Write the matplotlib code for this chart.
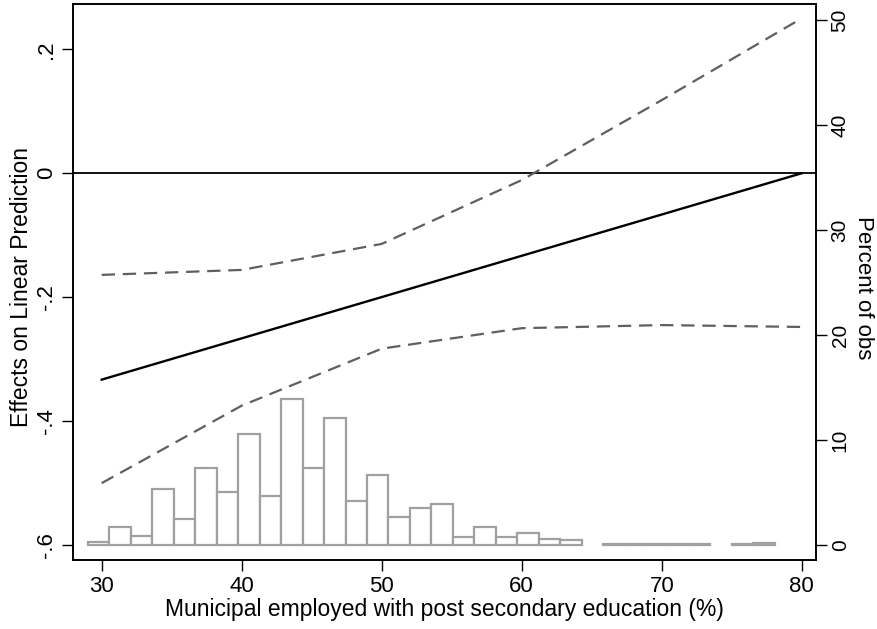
import numpy as np
import matplotlib
matplotlib.use("Agg")
import matplotlib.pyplot as plt

plt.rcParams['font.family'] = ['Liberation Sans', 'DejaVu Sans']

# marginal effect line and confidence bounds
x_pts = [30, 40, 50, 60, 70, 80]
effect = [-0.333, -0.2664, -0.1998, -0.1332, -0.0666, 0.0]
upper = [-0.164, -0.156, -0.114, -0.011, 0.118, 0.250]
lower = [-0.50, -0.375, -0.283, -0.25, -0.245, -0.248]

# histogram of the moderator (percent of obs)
bin_start = 29.02
bin_width = 1.533
pct = [0.28, 1.76, 0.91, 5.4, 2.5, 7.4, 5.1, 10.56, 4.74, 13.9, 7.33, 12.08,
       4.23, 6.7, 2.68, 3.54, 3.95, 0.82, 1.74, 0.82, 1.2, 0.63, 0.5, 0.0,
       0.12, 0.12, 0.12, 0.1, 0.12, 0.0, 0.14, 0.26]

edges = bin_start + bin_width * np.arange(len(pct))
pct = np.array(pct)
keep = pct > 0

fig = plt.figure(figsize=(8.77, 6.29), dpi=100)
ax = fig.add_axes([0.0829, 0.1097, 0.8476, 0.8839])
ax2 = ax.twinx()

ax2.bar(edges[keep], pct[keep], width=bin_width, align='edge',
        color='white', edgecolor='#a0a0a0', linewidth=1.6)
ax2.set_ylim(-1.4, 51.55)
ax2.set_yticks([0, 10, 20, 30, 40, 50])

ax.set_zorder(ax2.get_zorder() + 1)
ax.patch.set_visible(False)

ax.axhline(0, color='black', linewidth=1.3)
ax.plot(x_pts, effect, color='black', linewidth=1.7)
ax.plot(x_pts, upper, color='#5f5f5f', linewidth=1.6, dashes=(6, 3.5))
ax.plot(x_pts, lower, color='#5f5f5f', linewidth=1.6, dashes=(6, 3.5))

ax.set_xlim(27.93, 81.02)
ax.set_ylim(-0.624, 0.273)
ax.set_xticks([30, 40, 50, 60, 70, 80])
ax.set_yticks([0.2, 0, -0.2, -0.4, -0.6])
ax.set_yticklabels(['.2', '0', '-.2', '-.4', '-.6'])
ax.set_xlabel('Municipal employed with post secondary education (%)', fontsize=16.5, labelpad=1)

fig.text(22 / 877, 0.543, 'Effects on Linear Prediction', fontsize=16.5,
         rotation=90, ha='center', va='center')
fig.text(863 / 877, 0.542, 'Percent of obs', fontsize=16,
         rotation=-90, ha='center', va='center')

ax.tick_params(axis='both', labelsize=16, length=8, width=1)
ax2.tick_params(axis='y', labelsize=15, length=8, width=1, pad=2.5)
for a in (ax, ax2):
    for s in a.spines.values():
        s.set_linewidth(1.2)
for lab in ax.get_yticklabels() + ax2.get_yticklabels():
    lab.set_rotation(90)
    lab.set_va('center')

fig.savefig('out.png', dpi=100)
